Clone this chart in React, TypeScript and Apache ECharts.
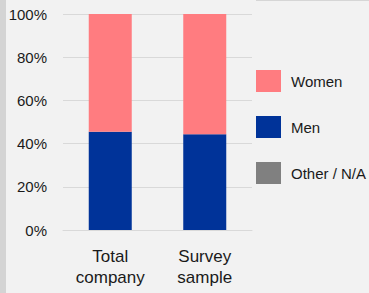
import React, { useEffect, useRef } from "react";
import * as echarts from "echarts";

const categories = ["Total\ncompany", "Survey\nsample"];
const menValues = [45.5, 44.3];
const womenValues = [54.5, 55.7];
const otherValues = [0, 0];
const yTicks = [0, 20, 40, 60, 80, 100];
const legendNames = ["Women", "Men", "Other / N/A"];

export default function App() {
  const ref = useRef<HTMLDivElement>(null);
  useEffect(() => {
    if (!ref.current) return;
    const chart = echarts.init(ref.current, null, { renderer: "svg" });
    const font = "'Liberation Sans', Arial, sans-serif";
    chart.setOption({
      animation: false,
      backgroundColor: "#f2f2f2",
      textStyle: { fontFamily: font },
      grid: { left: 63, right: 117, top: 14, bottom: 63, containLabel: false },
      legend: {
        data: legendNames,
        orient: "vertical",
        left: 251,
        top: 65,
        itemWidth: 25,
        itemHeight: 22,
        itemGap: 24,
        icon: "rect",
        selectedMode: false,
        textStyle: { fontSize: 15, color: "#1a1a1a", fontFamily: font, padding: [0, 0, 0, 5] },
      },
      xAxis: {
        type: "category",
        data: categories,
        axisLine: { show: true, lineStyle: { color: "#d9d9d9", width: 1 } },
        axisTick: { show: false },
        axisLabel: { fontSize: 17, color: "#1a1a1a", lineHeight: 21, margin: 16, fontFamily: font },
      },
      yAxis: {
        type: "value",
        min: yTicks[0],
        max: yTicks[yTicks.length - 1],
        interval: 20,
        axisLine: { show: false },
        axisTick: { show: false },
        splitLine: { lineStyle: { color: "#d9d9d9", width: 1 } },
        axisLabel: { formatter: "{value}%", fontSize: 15, color: "#1a1a1a", margin: 16, fontFamily: font },
      },
      series: [
        { name: "Men", type: "bar", stack: "s", data: menValues, barWidth: 43, itemStyle: { color: "#003399" } },
        { name: "Women", type: "bar", stack: "s", data: womenValues, barWidth: 43, itemStyle: { color: "#ff7c80" } },
        { name: "Other / N/A", type: "bar", stack: "s", data: otherValues, barWidth: 43, itemStyle: { color: "#808080" } },
      ],
      graphic: [
        { type: "rect", left: 0, top: 0, shape: { width: 6, height: 293 }, style: { fill: "#d4d4d4" } },
        { type: "line", shape: { x1: 256, y1: 0.5, x2: 369, y2: 0.5 }, style: { stroke: "#d6d6d6", lineWidth: 1 } },
      ],
    });
    return () => chart.dispose();
  }, []);
  return <div ref={ref} style={{ position: "fixed", left: 0, top: 0, width: 369, height: 293 }} />;
}
